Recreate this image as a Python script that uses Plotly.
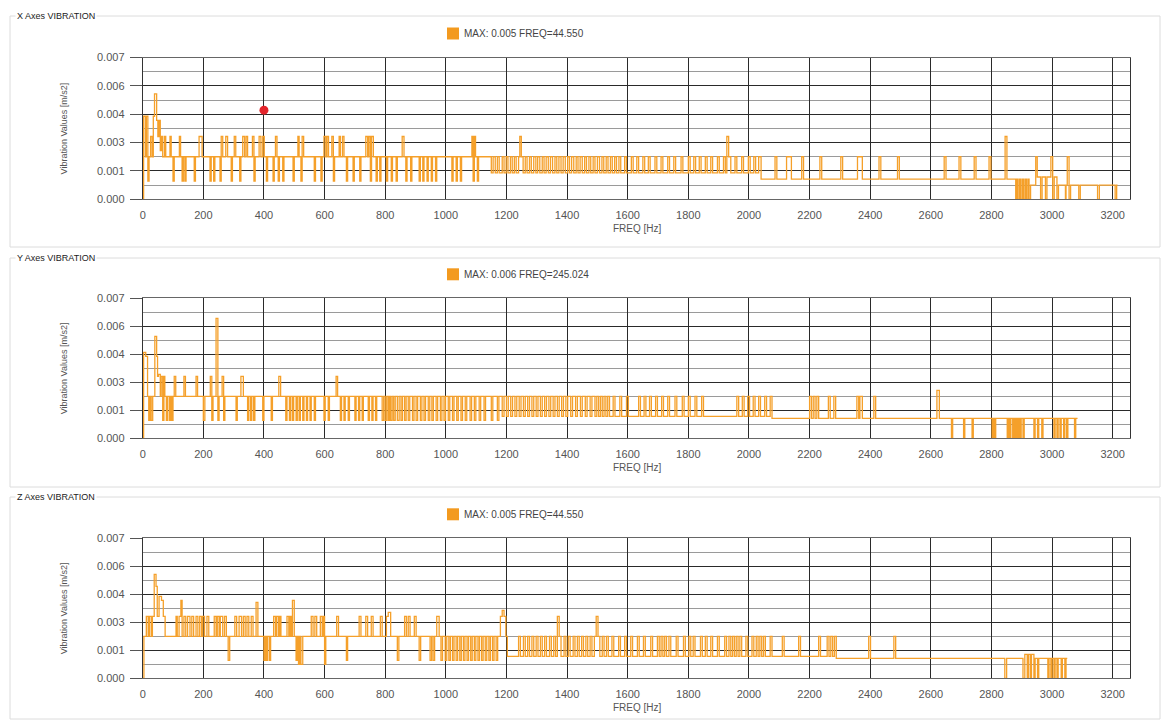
import plotly.graph_objects as go

W, H = 1163, 721

# ---------------- data ----------------
FREQ_TICKS = [0, 200, 400, 600, 800, 1000, 1200, 1400, 1600, 1800, 2000,
              2200, 2400, 2600, 2800, 3000, 3200]
VIB_TICKS = [0.0, 0.0014, 0.0028, 0.0042, 0.0056, 0.007]
VIB_TICK_TEXT = ["0.000", "0.001", "0.003", "0.004", "0.006", "0.007"]
VIB_MINOR = [0.0007, 0.0021, 0.0035, 0.0049, 0.0063]

PANEL_TITLES = ["X Axes VIBRATION", "Y Axes VIBRATION", "Z Axes VIBRATION"]
LEGEND_TEXT = ["MAX: 0.005 FREQ=44.550", "MAX: 0.006 FREQ=245.024",
               "MAX: 0.005 FREQ=44.550"]

CURSOR_FREQ = [400]
CURSOR_VIB = [0.0044]

X_FREQ = [
    0, 3, 9, 12, 17, 21, 26, 31, 35, 39,
    46, 50, 54, 58, 62, 66, 72, 76, 90, 94,
    100, 104, 121, 125, 130, 134, 139, 143, 170, 174,
    186, 196,
    222, 226, 234, 238, 255, 259, 264, 274, 280, 292,
    296, 302, 307, 320, 324, 330, 336, 341, 346, 362,
    367, 371, 384, 390, 396, 401, 408, 412, 430, 434,
    438, 443, 447, 451, 462, 466, 496, 500, 512, 516,
    522, 526, 531, 566, 570, 588, 592,
    598, 604, 608, 613, 624, 629, 633, 648, 652, 659,
    664, 672, 676, 694, 698, 716, 720, 736, 742, 746,
    751, 755, 761, 770, 774, 782, 786, 804, 808, 820,
    824, 836, 840, 856, 862, 868, 872, 884, 888, 912,
    916, 924, 928, 938, 942, 952, 956, 966, 970, 1020,
    1024, 1034, 1038, 1048, 1052, 1086, 1090, 1094, 1098, 1104,
    1108, 1150,
    1156, 1163, 1170, 1176, 1186, 1192, 1199, 1205, 1213, 1219,
    1226, 1232, 1240, 1244, 1249, 1255, 1262, 1268, 1276, 1282,
    1290, 1297, 1303, 1310, 1318, 1324, 1331, 1338, 1345, 1352,
    1360, 1366, 1373, 1380, 1387, 1394, 1402, 1408, 1415, 1422,
    1430, 1436, 1443, 1450, 1458, 1464, 1472, 1478, 1486, 1492,
    1500, 1507, 1515, 1521, 1529, 1535, 1543, 1549, 1557, 1563,
    1571, 1577, 1590, 1596, 1612, 1618, 1630, 1636, 1650, 1656,
    1668, 1674, 1690, 1696, 1710, 1716, 1732, 1738, 1752, 1758,
    1776, 1782, 1800, 1806, 1818, 1824, 1836, 1842, 1856, 1862,
    1874, 1880, 1896, 1902, 1916, 1922, 1927, 1933, 1940, 1954,
    1960, 1976, 1982, 1998, 2004, 2016, 2022, 2032, 2040,
    2086, 2092, 2124, 2140, 2174, 2180, 2234, 2240, 2303, 2309,
    2358, 2374, 2429, 2435, 2490, 2496, 2644, 2650, 2693, 2699,
    2743, 2749, 2792, 2798, 2845, 2851,
    2880, 2884, 2888, 2893, 2897, 2902, 2906, 2911, 2915, 2920,
    2924, 2929, 2946, 2951, 2962, 2967, 2978, 2983, 2996, 3002,
    3007, 3016, 3021, 3044, 3046, 3050, 3056, 3061, 3088, 3093,
    3150, 3156, 3208, 3213, 3216,
]
X_VIB = [
    0.0, 0.0041, 0.0021, 0.0041, 0.0009, 0.0021, 0.0031, 0.0021, 0.0041, 0.0052,
    0.0039, 0.0031, 0.0039, 0.0024, 0.0031, 0.0021, 0.0031, 0.0021, 0.0031, 0.0021,
    0.0009, 0.0021, 0.0031, 0.0021, 0.0009, 0.0021, 0.0009, 0.0021, 0.0009, 0.0021,
    0.0031, 0.0021,
    0.0009, 0.0021, 0.0009, 0.0021, 0.0009, 0.0031, 0.0021, 0.0031, 0.0021, 0.0009,
    0.0021, 0.0031, 0.0021, 0.0009, 0.0021, 0.0031, 0.0021, 0.0031, 0.0021, 0.0031,
    0.0009, 0.0021, 0.0031, 0.0021, 0.0031, 0.0021, 0.0009, 0.0021, 0.0009, 0.0021,
    0.0031, 0.0021, 0.0009, 0.0021, 0.0009, 0.0021, 0.0009, 0.0021, 0.0031, 0.0021,
    0.0009, 0.0031, 0.0021, 0.0009, 0.0021, 0.0009, 0.0021,
    0.0031, 0.0021, 0.0031, 0.0021, 0.0031, 0.0009, 0.0021, 0.0031, 0.0021, 0.0031,
    0.0021, 0.0009, 0.0021, 0.0009, 0.0021, 0.0009, 0.0021, 0.0031, 0.0021, 0.0031,
    0.0009, 0.0031, 0.0021, 0.0009, 0.0021, 0.0009, 0.0021, 0.0009, 0.0021, 0.0009,
    0.0021, 0.0009, 0.0021, 0.0031, 0.0021, 0.0009, 0.0021, 0.0009, 0.0021, 0.0009,
    0.0021, 0.0009, 0.0021, 0.0009, 0.0021, 0.0009, 0.0021, 0.0009, 0.0021, 0.0009,
    0.0021, 0.0009, 0.0021, 0.0009, 0.0021, 0.0031, 0.0009, 0.0031, 0.0021, 0.0009,
    0.0021, 0.0013,
    0.0021, 0.0013, 0.0021, 0.0013, 0.0021, 0.0013, 0.0021, 0.0013, 0.0021, 0.0013,
    0.0021, 0.0013, 0.0021, 0.0031, 0.0021, 0.0013, 0.0021, 0.0013, 0.0021, 0.0013,
    0.0021, 0.0013, 0.0021, 0.0013, 0.0021, 0.0013, 0.0021, 0.0013, 0.0021, 0.0013,
    0.0021, 0.0013, 0.0021, 0.0013, 0.0021, 0.0013, 0.0021, 0.0013, 0.0021, 0.0013,
    0.0021, 0.0013, 0.0021, 0.0013, 0.0021, 0.0013, 0.0021, 0.0013, 0.0021, 0.0013,
    0.0021, 0.0013, 0.0021, 0.0013, 0.0021, 0.0013, 0.0021, 0.0013, 0.0021, 0.0013,
    0.0021, 0.0013, 0.0021, 0.0013, 0.0021, 0.0013, 0.0021, 0.0013, 0.0021, 0.0013,
    0.0021, 0.0013, 0.0021, 0.0013, 0.0021, 0.0013, 0.0021, 0.0013, 0.0021, 0.0013,
    0.0021, 0.0013, 0.0021, 0.0013, 0.0021, 0.0013, 0.0021, 0.0013, 0.0021, 0.0013,
    0.0021, 0.0013, 0.0021, 0.0013, 0.0021, 0.0013, 0.0031, 0.0021, 0.0013, 0.0021,
    0.0013, 0.0021, 0.0013, 0.0021, 0.0013, 0.0021, 0.0013, 0.0021, 0.0010,
    0.0021, 0.0010, 0.0021, 0.0010, 0.0021, 0.0010, 0.0021, 0.0010, 0.0021, 0.0010,
    0.0021, 0.0010, 0.0021, 0.0010, 0.0021, 0.0010, 0.0021, 0.0010, 0.0021, 0.0010,
    0.0021, 0.0010, 0.0021, 0.0010, 0.0031, 0.0010,
    0.0, 0.0010, 0.0, 0.0010, 0.0, 0.0010, 0.0, 0.0010, 0.0, 0.0010,
    0.0, 0.0007, 0.0021, 0.0011, 0.0, 0.0011, 0.0, 0.0011, 0.0021, 0.0,
    0.0011, 0.0, 0.0007, 0.0, 0.0007, 0.0021, 0.0, 0.0007, 0.0, 0.0007,
    0.0, 0.0007, 0.0, 0.0007, 0.0007,
]

Y_FREQ = [
    0, 3, 10, 16, 20, 24, 28, 33, 40, 46,
    49, 52, 58, 61, 66, 70, 73, 78, 82, 88,
    92, 96, 100, 104, 109, 136, 141, 176, 181, 200,
    205, 223, 228, 232, 242, 248, 252, 262, 267, 271,
    308, 312, 324, 332, 346, 350, 356, 360, 366, 370,
    396, 400,
    424, 428, 449, 455, 472, 476, 484, 488, 494, 498,
    506, 510, 516, 520, 528, 532, 540, 544, 552, 556,
    566, 570, 598, 602, 612, 616, 638, 643, 652, 656,
    664, 668, 678, 682, 700, 704, 712, 716, 724, 728,
    744, 748, 756, 760, 768, 772, 790, 795, 800, 805,
    810, 814, 818, 823, 828, 833, 840, 846, 852, 857,
    864, 869, 876, 881, 890, 895, 902, 907, 916, 921,
    928, 933, 942, 947, 954, 959, 968, 973, 982, 987,
    994, 999,
    1008, 1013, 1022, 1027, 1036, 1041, 1050, 1055, 1064, 1069,
    1080, 1085, 1094, 1099, 1110, 1115, 1126, 1131, 1150, 1155,
    1170, 1175, 1186, 1192, 1200, 1206, 1214, 1220, 1228, 1234,
    1242, 1248, 1256, 1262, 1270, 1276, 1284, 1290, 1298, 1304,
    1312, 1318, 1326, 1332, 1340, 1346, 1354, 1360, 1368, 1374,
    1382, 1388, 1396, 1402, 1412, 1418, 1428, 1434, 1444, 1450,
    1460, 1466, 1476, 1482, 1492, 1498, 1504, 1510, 1516, 1522,
    1528, 1534, 1540, 1552, 1558, 1574, 1580, 1596, 1602, 1636,
    1642, 1654, 1660, 1672, 1678, 1692, 1698, 1712, 1718, 1732,
    1738, 1756, 1762, 1780, 1786, 1800, 1806, 1822, 1828, 1844,
    1850, 1960, 1966, 1978, 1984, 1996, 2002, 2014, 2020, 2032,
    2038, 2052, 2058, 2070, 2076,
    2200, 2206, 2212, 2218, 2224, 2230, 2262, 2268, 2280, 2286,
    2356, 2362, 2366, 2374, 2412, 2418, 2620, 2628, 2668, 2672,
    2708, 2712, 2736, 2740, 2802, 2806, 2810, 2814, 2852, 2856,
    2860, 2864, 2870, 2874, 2878, 2882, 2886, 2890, 2894, 2898,
    2904, 2908, 2940, 2944, 2952, 2956, 2966, 2970, 3006, 3010,
    3016, 3020, 3026, 3030, 3038, 3042, 3048, 3052, 3074, 3078,
    3084,
]
Y_VIB = [
    0.0, 0.0043, 0.0041, 0.0021, 0.0009, 0.0021, 0.0009, 0.0021, 0.0051, 0.0041,
    0.0031, 0.0032, 0.0021, 0.0031, 0.0009, 0.0031, 0.0021, 0.0009, 0.0021, 0.0009,
    0.0021, 0.0009, 0.0021, 0.0031, 0.0021, 0.0031, 0.0021, 0.0031, 0.0021, 0.0009,
    0.0021, 0.0031, 0.0009, 0.0021, 0.0060, 0.0009, 0.0021, 0.0031, 0.0009, 0.0021,
    0.0009, 0.0021, 0.0031, 0.0021, 0.0009, 0.0021, 0.0009, 0.0021, 0.0009, 0.0021,
    0.0009, 0.0021,
    0.0009, 0.0021, 0.0031, 0.0021, 0.0009, 0.0021, 0.0009, 0.0021, 0.0009, 0.0021,
    0.0009, 0.0021, 0.0009, 0.0021, 0.0009, 0.0021, 0.0009, 0.0021, 0.0009, 0.0021,
    0.0009, 0.0021, 0.0009, 0.0021, 0.0009, 0.0021, 0.0031, 0.0021, 0.0009, 0.0021,
    0.0009, 0.0021, 0.0009, 0.0021, 0.0009, 0.0021, 0.0009, 0.0021, 0.0009, 0.0021,
    0.0009, 0.0021, 0.0009, 0.0021, 0.0009, 0.0021, 0.0009, 0.0021, 0.0009, 0.0021,
    0.0009, 0.0021, 0.0009, 0.0021, 0.0009, 0.0021, 0.0009, 0.0021, 0.0009, 0.0021,
    0.0009, 0.0021, 0.0009, 0.0021, 0.0009, 0.0021, 0.0009, 0.0021, 0.0009, 0.0021,
    0.0009, 0.0021, 0.0009, 0.0021, 0.0009, 0.0021, 0.0009, 0.0021, 0.0009, 0.0021,
    0.0009, 0.0021,
    0.0009, 0.0021, 0.0009, 0.0021, 0.0009, 0.0021, 0.0009, 0.0021, 0.0009, 0.0021,
    0.0009, 0.0021, 0.0009, 0.0021, 0.0009, 0.0021, 0.0009, 0.0021, 0.0009, 0.0021,
    0.0009, 0.0021, 0.0011, 0.0021, 0.0011, 0.0021, 0.0011, 0.0021, 0.0011, 0.0021,
    0.0011, 0.0021, 0.0011, 0.0021, 0.0011, 0.0021, 0.0011, 0.0021, 0.0011, 0.0021,
    0.0011, 0.0021, 0.0011, 0.0021, 0.0011, 0.0021, 0.0011, 0.0021, 0.0011, 0.0021,
    0.0011, 0.0021, 0.0011, 0.0021, 0.0011, 0.0021, 0.0011, 0.0021, 0.0011, 0.0021,
    0.0011, 0.0021, 0.0011, 0.0021, 0.0011, 0.0021, 0.0011, 0.0021, 0.0011, 0.0021,
    0.0011, 0.0021, 0.0011, 0.0021, 0.0011, 0.0021, 0.0011, 0.0021, 0.0011, 0.0021,
    0.0011, 0.0021, 0.0011, 0.0021, 0.0011, 0.0021, 0.0011, 0.0021, 0.0011, 0.0021,
    0.0011, 0.0021, 0.0011, 0.0021, 0.0011, 0.0021, 0.0011, 0.0021, 0.0011, 0.0021,
    0.0011, 0.0021, 0.0011, 0.0021, 0.0011, 0.0021, 0.0011, 0.0021, 0.0011, 0.0021,
    0.0011, 0.0021, 0.0011, 0.0021, 0.0010,
    0.0021, 0.0010, 0.0021, 0.0010, 0.0021, 0.0010, 0.0021, 0.0010, 0.0021, 0.0010,
    0.0021, 0.0010, 0.0021, 0.0010, 0.0021, 0.0010, 0.0024, 0.0010, 0.0, 0.0010,
    0.0, 0.0010, 0.0, 0.0010, 0.0, 0.0010, 0.0, 0.0010, 0.0, 0.0010,
    0.0, 0.0010, 0.0, 0.0010, 0.0, 0.0010, 0.0, 0.0010, 0.0, 0.0010,
    0.0, 0.0010, 0.0, 0.0010, 0.0, 0.0010, 0.0, 0.0010, 0.0, 0.0010,
    0.0, 0.0010, 0.0, 0.0010, 0.0, 0.0010, 0.0, 0.0010, 0.0, 0.0010,
    0.0010,
]

Z_FREQ = [
    0, 4, 12, 18, 22, 28, 32, 38, 44, 48,
    54, 62, 68, 74, 110, 114, 120, 126, 130, 136,
    142, 148, 156, 162, 168, 176, 182, 188, 194, 198,
    204, 212, 218, 236, 242, 246, 252, 256, 264, 270,
    276, 282, 287, 304, 310, 318, 326, 332, 338, 344,
    350, 358, 364, 374, 380, 392,
    400, 404, 408, 412, 418, 422, 432, 438, 442, 448,
    452, 456, 476, 482, 486, 490, 494, 500, 506, 510,
    514, 518, 522, 528, 556, 562, 568, 574, 586, 592,
    596, 600, 604, 640, 646, 672, 676, 714, 720, 736,
    742, 754, 760, 784, 790,
    804, 810, 818, 840, 845, 864, 870, 876, 882, 896,
    902, 912, 917, 948, 953, 958, 963, 970, 978, 984,
    989, 998, 1003, 1010, 1015, 1022, 1027, 1034, 1039, 1046,
    1051, 1058, 1063, 1070, 1075, 1082, 1087, 1094, 1099, 1106,
    1111, 1118, 1123, 1130, 1135, 1142, 1147, 1154, 1159, 1166,
    1171, 1180, 1186, 1192, 1198, 1203, 1240,
    1246, 1256, 1262, 1270, 1276, 1284, 1290, 1298, 1304, 1312,
    1318, 1326, 1332, 1342, 1348, 1356, 1362, 1368, 1374, 1380,
    1390, 1396, 1404, 1410, 1420, 1426, 1434, 1440, 1448, 1454,
    1462, 1468, 1476, 1482, 1490, 1496, 1502, 1508, 1516, 1522,
    1530, 1536, 1548, 1554, 1570, 1576, 1590, 1596, 1610, 1616,
    1632, 1638, 1652, 1658, 1676, 1682, 1698, 1704, 1710, 1716,
    1722, 1728, 1736, 1742, 1760, 1766, 1784, 1790, 1802, 1808,
    1816, 1822, 1840, 1846, 1856, 1862, 1874, 1880, 1896, 1902,
    1920, 1926, 1934, 1940, 1946, 1952, 1958, 1964, 1970, 1976,
    1990, 1996, 2010, 2016, 2024, 2030, 2036, 2042, 2048, 2054,
    2070, 2076, 2110, 2116, 2164, 2170, 2230, 2236, 2258, 2264,
    2270, 2276, 2282, 2288,
    2395, 2401, 2478, 2484, 2844, 2850, 2904, 2910, 2918, 2922,
    2928, 2932, 2940, 2944, 2952, 2956, 2986, 2990, 2996, 3000,
    3006, 3010, 3016, 3020, 3030, 3034, 3042, 3046, 3050,
]
Z_VIB = [
    0.0, 0.0021, 0.0031, 0.0021, 0.0031, 0.0021, 0.0031, 0.0052, 0.0046, 0.0031,
    0.0041, 0.0039, 0.0031, 0.0021, 0.0031, 0.0021, 0.0031, 0.0039, 0.0021, 0.0031,
    0.0021, 0.0031, 0.0021, 0.0031, 0.0021, 0.0031, 0.0021, 0.0031, 0.0021, 0.0031,
    0.0021, 0.0031, 0.0021, 0.0031, 0.0021, 0.0031, 0.0021, 0.0031, 0.0021, 0.0031,
    0.0021, 0.0009, 0.0021, 0.0031, 0.0021, 0.0031, 0.0021, 0.0031, 0.0021, 0.0031,
    0.0021, 0.0031, 0.0021, 0.0038, 0.0021, 0.0021,
    0.0009, 0.0021, 0.0009, 0.0021, 0.0009, 0.0021, 0.0031, 0.0021, 0.0031, 0.0021,
    0.0031, 0.0021, 0.0031, 0.0021, 0.0031, 0.0021, 0.0039, 0.0021, 0.0009, 0.0021,
    0.0007, 0.0021, 0.0007, 0.0021, 0.0031, 0.0021, 0.0031, 0.0021, 0.0031, 0.0021,
    0.0031, 0.0007, 0.0021, 0.0031, 0.0021, 0.0009, 0.0021, 0.0031, 0.0021, 0.0031,
    0.0021, 0.0031, 0.0021, 0.0031, 0.0021,
    0.0031, 0.0033, 0.0021, 0.0009, 0.0021, 0.0031, 0.0021, 0.0031, 0.0021, 0.0031,
    0.0021, 0.0009, 0.0021, 0.0009, 0.0021, 0.0009, 0.0021, 0.0031, 0.0021, 0.0009,
    0.0021, 0.0009, 0.0021, 0.0009, 0.0021, 0.0009, 0.0021, 0.0009, 0.0021, 0.0009,
    0.0021, 0.0009, 0.0021, 0.0009, 0.0021, 0.0009, 0.0021, 0.0009, 0.0021, 0.0009,
    0.0021, 0.0009, 0.0021, 0.0009, 0.0021, 0.0009, 0.0021, 0.0009, 0.0021, 0.0009,
    0.0021, 0.0031, 0.0034, 0.0031, 0.0021, 0.0011, 0.0021,
    0.0011, 0.0021, 0.0011, 0.0021, 0.0011, 0.0021, 0.0011, 0.0021, 0.0011, 0.0021,
    0.0011, 0.0021, 0.0011, 0.0021, 0.0011, 0.0021, 0.0011, 0.0031, 0.0021, 0.0011,
    0.0021, 0.0011, 0.0021, 0.0011, 0.0021, 0.0011, 0.0021, 0.0011, 0.0021, 0.0011,
    0.0021, 0.0011, 0.0021, 0.0011, 0.0021, 0.0031, 0.0021, 0.0011, 0.0021, 0.0011,
    0.0021, 0.0011, 0.0021, 0.0011, 0.0021, 0.0011, 0.0021, 0.0011, 0.0021, 0.0011,
    0.0021, 0.0011, 0.0021, 0.0011, 0.0021, 0.0011, 0.0021, 0.0011, 0.0021, 0.0011,
    0.0021, 0.0011, 0.0021, 0.0011, 0.0021, 0.0011, 0.0021, 0.0011, 0.0021, 0.0011,
    0.0021, 0.0011, 0.0021, 0.0011, 0.0021, 0.0011, 0.0021, 0.0011, 0.0021, 0.0011,
    0.0021, 0.0011, 0.0021, 0.0011, 0.0021, 0.0011, 0.0021, 0.0011, 0.0021, 0.0011,
    0.0021, 0.0011, 0.0021, 0.0011, 0.0021, 0.0011, 0.0021, 0.0011, 0.0021, 0.0011,
    0.0021, 0.0011, 0.0021, 0.0011, 0.0021, 0.0011, 0.0021, 0.0011, 0.0021, 0.0011,
    0.0021, 0.0011, 0.0021, 0.0010,
    0.0021, 0.0010, 0.0021, 0.0010, 0.0, 0.0010, 0.0, 0.0012, 0.0, 0.0012,
    0.0, 0.0012, 0.0, 0.0010, 0.0, 0.0010, 0.0, 0.0010, 0.0, 0.0010,
    0.0, 0.0010, 0.0, 0.0010, 0.0, 0.0010, 0.0, 0.0010, 0.0010,
]

assert len(X_FREQ) == len(X_VIB), ("X", len(X_FREQ), len(X_VIB))
assert len(Y_FREQ) == len(Y_VIB), ("Y", len(Y_FREQ), len(Y_VIB))
assert len(Z_FREQ) == len(Z_VIB), ("Z", len(Z_FREQ), len(Z_VIB))

SERIES = [(X_FREQ, X_VIB), (Y_FREQ, Y_VIB), (Z_FREQ, Z_VIB)]

# ---------------- styling / geometry (pixels) ----------------
LINE_COLOR = "#F5A02A"
SQUARE_COLOR = "#F39A1F"
FONT = "Liberation Sans, Arial, sans-serif"
PLOT_L, PLOT_R = 142.7, 1130.0
PANEL_PX = [(57.5, 199.3), (298.3, 438.3), (538.3, 678.3)]
BOX_PX = [(16, 247), (258, 487), (497, 719)]
X_RANGE = [0, 3257]


def px(x):
    return x / W


def py(y):
    return 1 - y / H


fig = go.Figure()
layout = dict(
    width=W, height=H,
    margin=dict(l=0, r=0, t=0, b=0, pad=0, autoexpand=False),
    paper_bgcolor="white", plot_bgcolor="white",
    font=dict(family=FONT, color="#444"),
    showlegend=False,
)
annotations = []
shapes = []

for i, ((fr, vb), (top, bot)) in enumerate(zip(SERIES, PANEL_PX)):
    sfx = "" if i == 0 else str(i + 1)
    xa, ya = "x" + sfx, "y" + sfx
    fig.add_trace(go.Scatter(
        x=fr, y=vb, mode="lines", name=LEGEND_TEXT[i],
        line=dict(color=LINE_COLOR, width=1.3, shape="hv"),
        xaxis=xa, yaxis=ya, hoverinfo="x+y"))

    layout["xaxis" + sfx] = dict(
        domain=[px(PLOT_L), px(PLOT_R)], anchor=ya, range=X_RANGE,
        tickmode="array", tickvals=FREQ_TICKS,
        showgrid=True, gridcolor="#2a2a2a", gridwidth=1,
        showline=True, linecolor="#666", linewidth=1, mirror=True,
        zeroline=False, ticks="", ticklabelstandoff=5,
        tickfont=dict(size=11, color="#555", family=FONT),
    )
    layout["yaxis" + sfx] = dict(
        domain=[py(bot), py(top)], anchor=xa, range=[0, 0.007],
        tickmode="array", tickvals=VIB_TICKS, ticktext=VIB_TICK_TEXT,
        showgrid=True, gridcolor="#2a2a2a", gridwidth=1,
        minor=dict(tickmode="array", tickvals=VIB_MINOR, showgrid=True,
                   gridcolor="#9a9a9a", gridwidth=1, ticks=""),
        showline=True, linecolor="#333", linewidth=1, mirror=True,
        zeroline=False, ticks="outside", ticklen=12, tickcolor="#555", tickwidth=1,
        ticklabelstandoff=3,
        tickfont=dict(size=11, color="#555", family=FONT),
    )

    # legend swatch + text
    ly = top - 24
    shapes.append(dict(type="rect", xref="paper", yref="paper",
                       x0=px(447), x1=px(459), y0=py(ly + 6), y1=py(ly - 6),
                       fillcolor=SQUARE_COLOR, line=dict(width=0)))
    annotations.append(dict(
        x=px(462), y=py(ly), xref="paper", yref="paper", xanchor="left",
        yanchor="middle", text=LEGEND_TEXT[i], showarrow=False,
        font=dict(size=10, color="#444", family=FONT)))

    # group box
    b0, b1 = BOX_PX[i]
    shapes.append(dict(type="rect", xref="paper", yref="paper",
                       x0=px(10), x1=px(1160), y0=py(b1), y1=py(b0),
                       line=dict(color="#dcdcdc", width=1), layer="below"))
    annotations.append(dict(
        x=px(15), y=py(b0), xref="paper", yref="paper", xanchor="left",
        yanchor="middle", text=PANEL_TITLES[i], showarrow=False,
        bgcolor="white", borderpad=1,
        font=dict(size=9, color="#222", family=FONT)))
    # axis titles
    annotations.append(dict(
        x=px(637), y=py(bot + 29), xref="paper", yref="paper",
        xanchor="center", yanchor="middle", text="FREQ [Hz]", showarrow=False,
        font=dict(size=10, color="#555", family=FONT)))
    annotations.append(dict(
        x=px(64), y=py((top + bot) / 2), xref="paper", yref="paper",
        xanchor="center", yanchor="middle", text="Vibration Values [m/s2]",
        textangle=-90, showarrow=False,
        font=dict(size=9, color="#555", family=FONT)))

# cursor point on the X panel
fig.add_trace(go.Scatter(
    x=CURSOR_FREQ, y=CURSOR_VIB, mode="markers",
    marker=dict(color="#E3242B", size=9), xaxis="x", yaxis="y",
    showlegend=False))

layout["annotations"] = annotations
layout["shapes"] = shapes
fig.update_layout(**layout)
fig.write_html("out.html", config={"displayModeBar": False},
               post_script="document.body.style.margin='0px';document.body.style.overflow='hidden';")
